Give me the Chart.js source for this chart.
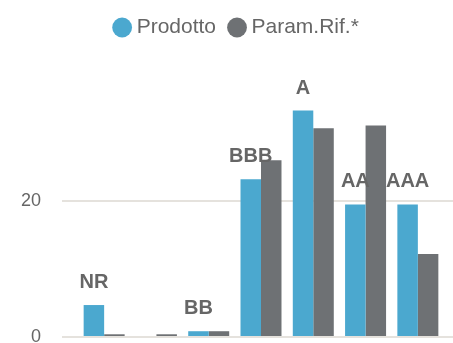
<!DOCTYPE html>
<html>
<head>
<meta charset="utf-8">
<script src="https://cdn.jsdelivr.net/npm/chart.js@4/dist/chart.umd.min.js"></script>
<style>
  html, body { margin: 0; padding: 0; background: #ffffff; overflow: hidden; }
  #wrap { width: 453px; height: 343px; }
</style>
</head>
<body>
<div id="wrap"><canvas id="c" width="453" height="343"></canvas></div>
<script>
// Rating classes and the two series compared in each class (%)
const categories = ['NR', 'B', 'BB', 'BBB', 'A', 'AA', 'AAA'];
const prodotto = [4.7, 0, 0.85, 23.2, 33.3, 19.5, 19.5];
const paramRif = [0.4, 0.4, 0.85, 26.0, 30.7, 31.1, 12.2];
const seriesNames = ['Prodotto', 'Param.Rif.*'];
const yTicks = [0, 20];

const BLUE = '#4ba8cf';
const GREY = '#6e7174';
const GRID = '#e5e2dd';
const TEXT = '#666666';

const gridColor = (ctx) => (yTicks.includes(ctx.tick && ctx.tick.value) ? GRID : 'rgba(0,0,0,0)');

// Category name written above each bar of the first series
const classLabels = {
  id: 'classLabels',
  afterDatasetsDraw(chart) {
    const meta = chart.getDatasetMeta(0);
    const ctx = chart.ctx;
    ctx.save();
    ctx.font = 'bold 20px "Liberation Sans", Arial, sans-serif';
    ctx.fillStyle = TEXT;
    ctx.textAlign = 'center';
    ctx.textBaseline = 'alphabetic';
    meta.data.forEach((bar, i) => {
      if (!prodotto[i]) return;
      ctx.fillText(categories[i], bar.x, bar.y - 17);
    });
    ctx.restore();
  }
};

// Extra room between the legend and the plot, legend nudged to the right
const legendGap = {
  id: 'legendGap',
  beforeInit(chart) {
    const origFit = chart.legend.fit;
    chart.legend.fit = function () {
      origFit.bind(chart.legend)();
      this.height = 65;
      if (this.lineWidths && this.lineWidths.length) this.lineWidths[0] -= 24;
    };
  }
};

// Vertical axes take no extra margin for their end labels
const noEndPadding = (s, w) => {
  s.width = w;
  s.paddingTop = 0;
  s.paddingBottom = 0;
};

new Chart(document.getElementById('c'), {
  type: 'bar',
  data: {
    labels: categories,
    datasets: [
      { label: seriesNames[0], data: prodotto, backgroundColor: BLUE, yAxisID: 'y' },
      { label: seriesNames[1], data: paramRif, backgroundColor: GREY, yAxisID: 'y' }
    ]
  },
  options: {
    responsive: false,
    animation: false,
    devicePixelRatio: 1,
    layout: { padding: { top: 0, bottom: 6, left: 0, right: 0 } },
    datasets: { bar: { categoryPercentage: 0.784, barPercentage: 1.0, borderWidth: 0 } },
    plugins: {
      legend: {
        position: 'top',
        align: 'center',
        labels: {
          usePointStyle: true,
          pointStyle: 'circle',
          boxWidth: 8,
          boxHeight: 14,
          padding: 17,
          color: TEXT,
          font: { family: '"Liberation Sans", Arial, sans-serif', size: 21 }
        }
      },
      tooltip: { enabled: false }
    },
    scales: {
      x: { display: false },
      y: {
        position: 'left',
        min: 0,
        max: 40,
        afterFit(s) { noEndPadding(s, 78); },
        border: { display: false },
        grid: { color: gridColor, tickColor: gridColor, lineWidth: 2, tickLength: 16, drawTicks: true },
        ticks: {
          stepSize: 20,
          padding: 21,
          color: TEXT,
          font: { family: '"Liberation Sans", Arial, sans-serif', size: 18 },
          callback: (v) => (yTicks.includes(v) ? String(v) : '')
        }
      },
      y2: {
        position: 'right',
        min: 0,
        max: 40,
        afterFit(s) { noEndPadding(s, 9); },
        border: { display: false },
        grid: { drawOnChartArea: false, color: gridColor, tickColor: gridColor, lineWidth: 2, tickLength: 9, drawTicks: true },
        ticks: { stepSize: 20, display: false }
      }
    }
  },
  plugins: [classLabels, legendGap]
});
</script>
</body>
</html>
